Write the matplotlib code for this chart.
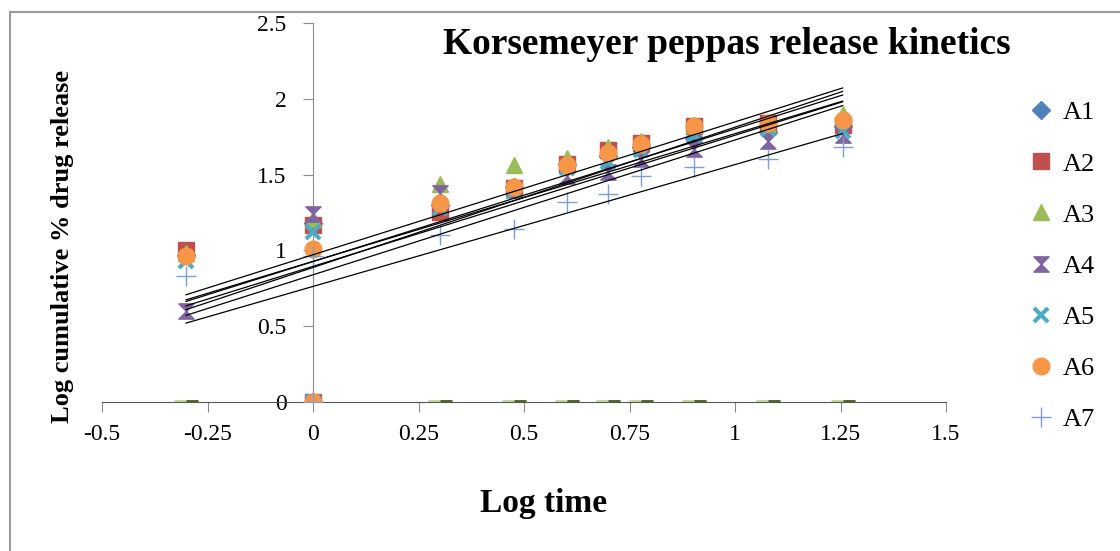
import numpy as np
import matplotlib.pyplot as plt
from matplotlib.path import Path

plt.rcParams['font.family'] = ['Liberation Serif', 'DejaVu Serif']

# log time (h) and log cumulative % drug release
log_time = [-0.301, 0, 0.301, 0.477, 0.602, 0.699, 0.778, 0.903, 1.079, 1.255]
A1 = [0.97, 1.18, 1.30, 1.42, 1.57, 1.62, 1.68, 1.74, 1.78, 1.82]
A2 = [1.00, 1.17, 1.25, 1.41, 1.57, 1.66, 1.71, 1.82, 1.84, 1.83]
A3 = [0.98, 1.21, 1.44, 1.56, 1.61, 1.68, 1.72, 1.83, 1.83, 1.90]
A4 = [0.60, 1.24, 1.38, 1.40, 1.49, 1.52, 1.60, 1.67, 1.72, 1.76]
A5 = [0.93, 1.12, 1.28, 1.39, 1.54, 1.58, 1.66, 1.76, 1.80, 1.79]
A6 = [0.96, 1.01, 1.31, 1.42, 1.56, 1.64, 1.70, 1.82, 1.84, 1.86]
A7 = [0.83, 0.96, 1.10, 1.14, 1.32, 1.37, 1.49, 1.55, 1.60, 1.68]
# zero time point, plotted at the origin
zero_x, zero_y = 0, 0

names = ['A1', 'A2', 'A3', 'A4', 'A5', 'A6', 'A7']
series = [A1, A2, A3, A4, A5, A6, A7]

hourglass = Path([(-1, 1), (1, 1), (-1, -1), (1, -1), (-1, 1)],
                 [Path.MOVETO, Path.LINETO, Path.LINETO, Path.LINETO, Path.CLOSEPOLY])
styles = [
    dict(marker='D', color='#4f81bd', ms=9),
    dict(marker='s', color='#c0504d', ms=11),
    dict(marker='^', color='#9bbb59', ms=12),
    dict(marker=hourglass, color='#8064a2', ms=11),
    dict(marker='x', color='#4bacc6', ms=10, mew=3),
    dict(marker='o', color='#f79646', ms=12),
    dict(marker='+', color='#7f9fd4', ms=15, mew=1),
]

fig = plt.figure(figsize=(11.2, 5.51), dpi=100)
ax = fig.add_axes([0.0911, 0.2704, 0.7536, 0.688])

for name, y, st in zip(names, series, styles):
    xs = np.array([zero_x] + log_time)
    ys = np.array([zero_y] + y)
    ax.plot(xs, ys, linestyle='none', label=name, zorder=3, **st)
    # power law trendline (linear in log-log)
    m, b = np.polyfit(xs, ys, 1)
    xl = np.array([min(log_time), max(log_time)])
    ax.plot(xl, m * xl + b, color='black', lw=0.9, zorder=4)

# dash markers sitting on the baseline
base_x = [t for t in log_time if t != 0]
half_dash = Path([(0, 0), (1, 0)], [Path.MOVETO, Path.LINETO])
ax.plot(base_x, [0] * len(base_x), linestyle='none', marker='_', ms=17, mew=3.5,
        color='#c3d69b', zorder=2)
ax.plot(base_x, [0] * len(base_x), linestyle='none', marker=half_dash, ms=17,
        mew=3.5, color='#4f6228', zorder=2)

ax.set_xlim(-0.5, 1.5)
ax.set_ylim(0, 2.5)
ax.set_xticks([-0.5, -0.25, 0, 0.25, 0.5, 0.75, 1, 1.25, 1.5])
ax.set_xticklabels(['-0.5', '-0.25', '0', '0.25', '0.5', '0.75', '1', '1.25', '1.5'])
ax.set_yticks([0, 0.5, 1, 1.5, 2, 2.5])
ax.set_yticklabels(['0', '0.5', '1', '1.5', '2', '2.5'])

for s in ['top', 'right']:
    ax.spines[s].set_visible(False)
ax.spines['left'].set_position(('data', 0))
ax.spines['left'].set_color('#8c8c8c')
ax.spines['bottom'].set_color('#555555')
ax.tick_params(axis='both', direction='out', length=7, color='#8c8c8c',
               labelsize=17)
ax.tick_params(axis='y', pad=12)
ax.tick_params(axis='x', pad=9)
ax.patch.set_alpha(0)

fig.text(0.649, 0.92, 'Korsemeyer peppas release kinetics', ha='center', va='center',
         fontsize=27, fontweight='bold')
fig.text(0.056, 0.552, 'Log cumulative % drug release', rotation=90, ha='center',
         va='center', fontsize=19, fontweight='bold')
fig.text(0.485, 0.087, 'Log time', ha='center', va='center', fontsize=24,
         fontweight='bold')

handles, labels = ax.get_legend_handles_labels()
fig.legend(handles, labels, loc='upper left', bbox_to_anchor=(0.899, 0.86),
           frameon=False, fontsize=19, labelspacing=1.05, handlelength=0.8,
           handletextpad=0.4)

# outer chart frame (left and top edges)
fig.add_artist(plt.Line2D([0.0085, 0.0085], [0, 0.979], color='#9a9a9a', lw=1.5))
fig.add_artist(plt.Line2D([0.0085, 1], [0.979, 0.979], color='#9a9a9a', lw=1.5))

fig.savefig('out.png', dpi=100)
